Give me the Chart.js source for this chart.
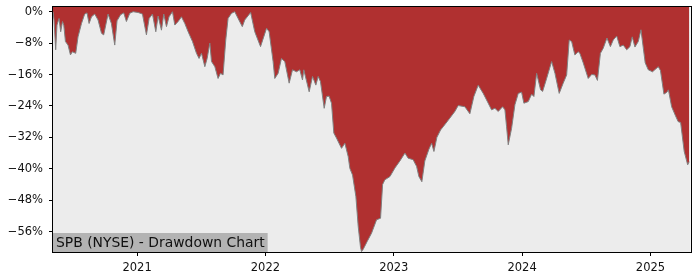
<!DOCTYPE html>
<html>
<head>
<meta charset="utf-8">
<script src="https://cdn.jsdelivr.net/npm/chart.js@4/dist/chart.umd.min.js"></script>
<style>
  body { margin: 0; background: #fff; }
</style>
</head>
<body>
<canvas id="myChart" width="700" height="280"></canvas>
<script>
// decimal years and drawdown (%)
var when = [
  2020.345, 2020.353, 2020.366, 2020.376, 2020.392, 2020.405, 2020.419, 2020.429, 2020.442, 2020.462,
  2020.481, 2020.496, 2020.522, 2020.540, 2020.567, 2020.592, 2020.610, 2020.626, 2020.645, 2020.670,
  2020.696, 2020.723, 2020.740, 2020.774, 2020.800, 2020.826, 2020.844, 2020.871, 2020.896, 2020.917,
  2020.943, 2020.969, 2021.008, 2021.042, 2021.073, 2021.094, 2021.120, 2021.146, 2021.164, 2021.190,
  2021.208, 2021.229, 2021.249, 2021.276, 2021.294, 2021.320, 2021.346, 2021.372, 2021.398, 2021.432,
  2021.463, 2021.483, 2021.502, 2021.528, 2021.546, 2021.567, 2021.580, 2021.606, 2021.631, 2021.650,
  2021.670, 2021.691, 2021.709, 2021.736, 2021.761, 2021.787, 2021.820, 2021.839, 2021.885, 2021.917,
  2021.962, 2022.009, 2022.029, 2022.060, 2022.073, 2022.099, 2022.125, 2022.151, 2022.185, 2022.211,
  2022.242, 2022.268, 2022.289, 2022.299, 2022.341, 2022.367, 2022.393, 2022.411, 2022.429, 2022.458,
  2022.476, 2022.496, 2022.515, 2022.533, 2022.554, 2022.593, 2022.619, 2022.645, 2022.658, 2022.679,
  2022.705, 2022.723, 2022.741, 2022.749, 2022.762, 2022.793, 2022.827, 2022.866, 2022.897, 2022.913,
  2022.931, 2022.970, 2023.009, 2023.048, 2023.087, 2023.112, 2023.151, 2023.178, 2023.196, 2023.219,
  2023.242, 2023.274, 2023.295, 2023.313, 2023.336, 2023.365, 2023.385, 2023.437, 2023.476, 2023.502,
  2023.554, 2023.593, 2023.624, 2023.658, 2023.697, 2023.736, 2023.762, 2023.788, 2023.814, 2023.848,
  2023.866, 2023.879, 2023.892, 2023.918, 2023.944, 2023.970, 2023.996, 2024.014, 2024.048, 2024.074,
  2024.092, 2024.113, 2024.144, 2024.160, 2024.191, 2024.230, 2024.256, 2024.289, 2024.320, 2024.347,
  2024.367, 2024.386, 2024.411, 2024.437, 2024.450, 2024.476, 2024.515, 2024.542, 2024.567, 2024.587,
  2024.610, 2024.632, 2024.661, 2024.688, 2024.710, 2024.737, 2024.762, 2024.788, 2024.815, 2024.840,
  2024.858, 2024.879, 2024.905, 2024.926, 2024.959, 2024.983, 2025.016, 2025.061, 2025.078, 2025.105,
  2025.128, 2025.140, 2025.165, 2025.195, 2025.216, 2025.235, 2025.263, 2025.290, 2025.302
];
var drawdown = [
  0, -2.1, -9.7, -3.4, -1.7, -5.1, -2.5, -3.4, -7.6, -8.5,
  -11.0, -10.2, -10.6, -6.4, -3.0, -0.6, -0.3, -3.0, -1.3, -0.6,
  -2.1, -5.5, -5.9, -0.6, -3.0, -8.5, -2.3, -0.8, -0.3, -2.5,
  -0.4, 0, -0.2, -0.6, -5.9, -1.7, -0.6, -5.1, -1.1, -4.7,
  -0.6, -3.8, -1.3, 0, -3.4, -2.5, -1.3, -3.0, -5.1, -7.6,
  -10.6, -11.9, -10.6, -14.0, -11.9, -8.0, -12.7, -14.0, -17.0, -15.7,
  -16.1, -7.2, -1.7, -0.4, 0, -1.7, -3.8, -2.1, -0.2, -5.1,
  -8.9, -4.2, -5.1, -12.7, -17.0, -15.7, -11.9, -12.7, -18.2, -14.8,
  -15.3, -14.8, -17.4, -14.8, -20.4, -16.5, -18.7, -16.5, -17.8, -24.6,
  -21.6, -21.5, -23.3, -30.9, -32.2, -34.8, -33.5, -36.9, -39.9, -41.6,
  -47.1, -54.7, -60.0, -61.1, -60.5, -58.5, -56.4, -53.0, -52.6, -44.0,
  -42.8, -42.0, -39.8, -38.0, -36.0, -37.3, -37.7, -39.4, -42.0, -43.3,
  -38.0, -35.0, -33.5, -35.6, -32.0, -30.1, -29.3, -27.1, -25.4, -23.9,
  -24.2, -26.0, -21.6, -18.7, -20.8, -23.3, -25.0, -24.6, -25.4, -24.2,
  -25.0, -29.3, -33.9, -29.7, -23.7, -20.8, -20.5, -23.3, -22.9, -21.0,
  -21.6, -15.7, -19.9, -20.3, -17.0, -12.7, -15.7, -20.8, -18.2, -16.1,
  -7.2, -7.6, -11.0, -10.2, -10.6, -13.0, -17.0, -16.0, -16.1, -17.5,
  -10.6, -9.3, -6.7, -8.9, -7.2, -6.2, -8.9, -8.5, -9.7, -8.9,
  -6.4, -9.0, -7.6, -4.6, -13.0, -14.8, -15.3, -14.0, -15.0, -21.0,
  -20.5, -19.9, -24.2, -26.5, -28.0, -28.2, -35.6, -39.0, -38.2
];
var yearTicks = [2021, 2022, 2023, 2024, 2025];
var pctTicks = [0, -8, -16, -24, -32, -40, -48, -56];
var title = "SPB (NYSE) - Drawdown Chart";

var points = when.map(function (t, i) { return { x: t, y: drawdown[i] }; });

var frame = {
  id: 'frame',
  beforeDraw: function (chart) {
    var a = chart.chartArea, c = chart.ctx;
    c.save();
    c.fillStyle = '#ececec';
    c.fillRect(a.left, a.top, a.right - a.left, a.bottom - a.top);
    c.restore();
  },
  afterDraw: function (chart) {
    var a = chart.chartArea, c = chart.ctx;
    c.save();
    c.font = '13.9px "DejaVu Sans"';
    var w = c.measureText(title).width;
    c.fillStyle = '#b3b3b3';
    c.fillRect(a.left, a.bottom - 19, w + 6, 19);
    c.fillStyle = '#111';
    c.textBaseline = 'alphabetic';
    c.fillText(title, a.left + 3, a.bottom - 5.3);
    c.strokeStyle = '#000';
    c.lineWidth = 1;
    c.strokeRect(Math.round(a.left) - 0.5, Math.round(a.top) - 0.5, Math.round(a.right - a.left) + 1, Math.round(a.bottom - a.top) + 1);
    c.restore();
  }
};

var ctx = document.getElementById("myChart");
var myChart = new Chart(ctx, {
  type: 'line',
  data: {
    datasets: [
      {
        data: points,
        borderColor: '#808080',
        borderWidth: 1,
        backgroundColor: '#b03030',
        fill: 'end',
        pointRadius: 0,
        tension: 0
      }
    ]
  },
  options: {
    responsive: false,
    animation: false,
    layout: { padding: { top: 7, right: 9.5, left: 0, bottom: 0 } },
    plugins: { legend: { display: false }, tooltip: { enabled: false } },
    scales: {
      x: {
        type: 'linear',
        min: when[0],
        max: 2025.312,
        afterBuildTicks: function (s) { s.ticks = yearTicks.map(function (v) { return { value: v }; }); },
        afterFit: function (s) { s.height = 28; s.paddingLeft = 0; s.paddingRight = 0; },
        grid: { drawOnChartArea: false, drawTicks: true, tickLength: 4, color: '#000' },
        border: { display: false },
        ticks: {
          color: '#111',
          font: { family: 'DejaVu Sans', size: 11.5 },
          padding: 5,
          maxRotation: 0,
          callback: function (v) { return String(v); }
        }
      },
      y: {
        min: -61.2,
        max: 1.2,
        afterBuildTicks: function (s) { s.ticks = pctTicks.map(function (v) { return { value: v }; }); },
        afterFit: function (s) { s.width = 53; s.paddingTop = 0; s.paddingBottom = 0; },
        grid: { drawOnChartArea: false, drawTicks: true, tickLength: 4, color: '#000' },
        border: { display: false },
        ticks: {
          color: '#111',
          font: { family: 'DejaVu Sans', size: 11.5 },
          padding: 6,
          callback: function (v) { return v === 0 ? '0%' : '\u2212' + Math.abs(v) + '%'; }
        }
      }
    }
  },
  plugins: [frame]
});
</script>
</body>
</html>
